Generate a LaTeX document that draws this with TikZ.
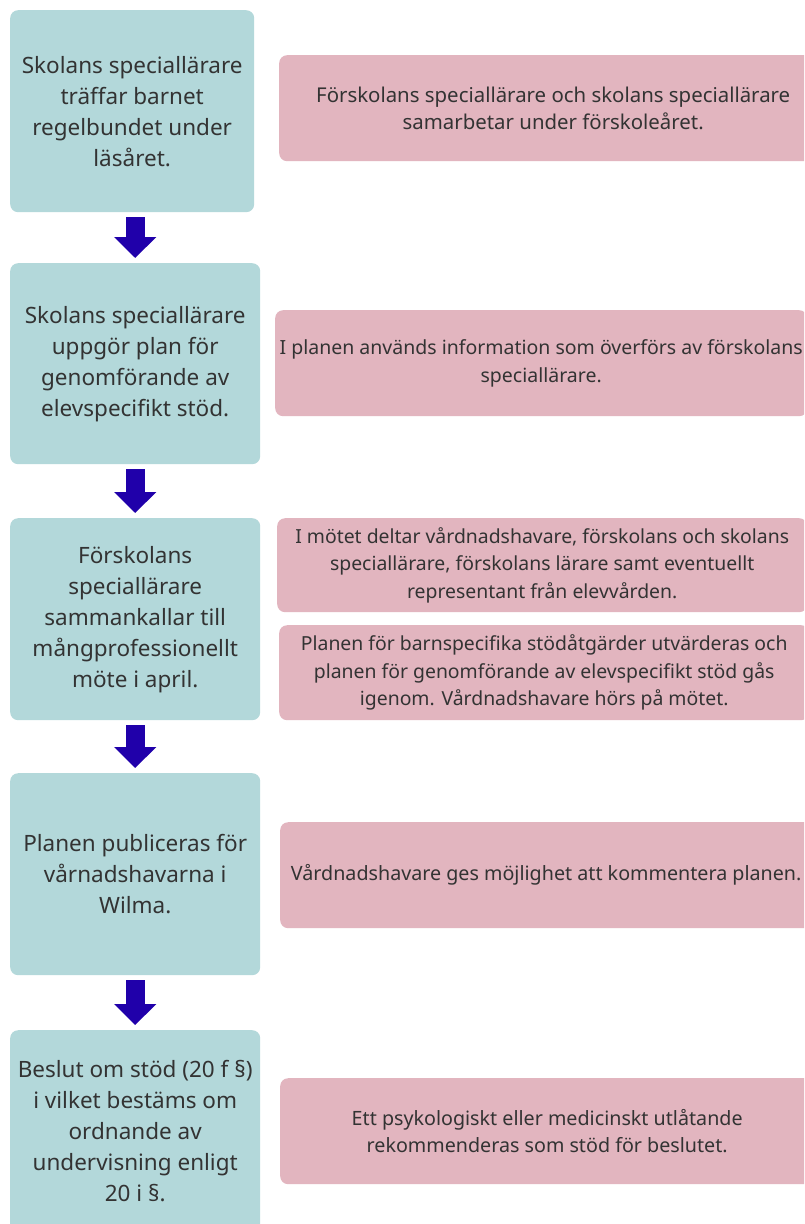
\documentclass[tikz,border=0pt]{standalone}
\usepackage{fontspec}
\setmainfont{Noto Sans}
\usetikzlibrary{arrows.meta}
\definecolor{tealbox}{HTML}{B3D8DA}
\definecolor{pinkbox}{HTML}{E2B5BF}
\definecolor{arrowblue}{HTML}{2000AA}
\definecolor{textgrey}{HTML}{333333}

\begin{document}
\begin{tikzpicture}[x=1pt,y=-1pt,
  stepbox/.style={fill=tealbox, rounded corners=8pt, anchor=north west, align=center,
    text=textgrey, minimum width=250pt, minimum height=202pt, inner sep=0pt,
    font=\fontsize{22.5}{31}\selectfont},
  notebox/.style={fill=pinkbox, rounded corners=8pt, anchor=north west, align=center,
    text=textgrey, minimum height=106pt, inner sep=0pt,
    font=\fontsize{19.7}{27.5}\selectfont},
  bluearrow/.style={arrowblue, line width=19pt, -{Triangle[length=21pt,width=41pt]},
    shorten <=5pt, shorten >=5pt}]
%page frame
\useasboundingbox (0,0) rectangle (804,1224);
\clip (0,0) rectangle (804,1224);
\fill[white] (0,0) rectangle (804,1224);
%steps on the left
\node[stepbox, minimum width=244pt] (s1) at (10,10) {Skolans speciallärare\\ träffar barnet\\ regelbundet under\\ läsåret.};
\node[stepbox, minimum height=201pt] (s2) at (10,263) {Skolans speciallärare\\ uppgör plan för\\ genomförande av\\ elevspecifikt stöd.};
\node[stepbox] (s3) at (10,518) {Förskolans\\ speciallärare\\ sammankallar till\\ mångprofessionellt\\ möte i april.};
\node[stepbox] (s4) at (10,773) {Planen publiceras för\\ vårnadshavarna i\\ Wilma.};
\node[stepbox] (s5) at (10,1030) {Beslut om stöd (20 f §)\\ i vilket bestäms om\\ ordnande av\\ undervisning enligt\\ 20 i §.};
%notes on the right
\node[notebox, minimum width=548pt, font=\fontsize{20.4}{27.5}\selectfont] (n1) at (279,55) {Förskolans speciallärare och skolans speciallärare\\ samarbetar under förskoleåret.};
\node[notebox, minimum width=532pt, font=\fontsize{19.5}{27.5}\selectfont] (n2) at (275,310) {I planen används information som överförs av förskolans\\ speciallärare.};
\node[notebox, minimum width=530pt, minimum height=94pt, font=\fontsize{19.4}{27.5}\selectfont] (n3a) at (277,518) {I mötet deltar vårdnadshavare, förskolans och skolans\\ speciallärare, förskolans lärare samt eventuellt\\ representant från elevvården.};
\node[notebox, minimum width=530pt, minimum height=95pt, font=\fontsize{19.4}{27.5}\selectfont] (n3b) at (279,625) {Planen för barnspecifika stödåtgärder utvärderas och\\ planen för genomförande av elevspecifikt stöd gås\\ igenom. Vårdnadshavare hörs på mötet.};
\node[notebox, minimum width=532pt] (n4) at (280,822) {Vårdnadshavare ges möjlighet att kommentera planen.};
\node[notebox, minimum width=534pt] (n5) at (280,1078) {Ett psykologiskt eller medicinskt utlåtande\\ rekommenderas som stöd för beslutet.};
%arrows between the steps
\draw[bluearrow] (s1.south -| s2.north) -- (s2.north);
\draw[bluearrow] (s2.south) -- (s3.north);
\draw[bluearrow] (s3.south) -- (s4.north);
\draw[bluearrow] (s4.south) -- (s5.north);
\end{tikzpicture}
\end{document}
